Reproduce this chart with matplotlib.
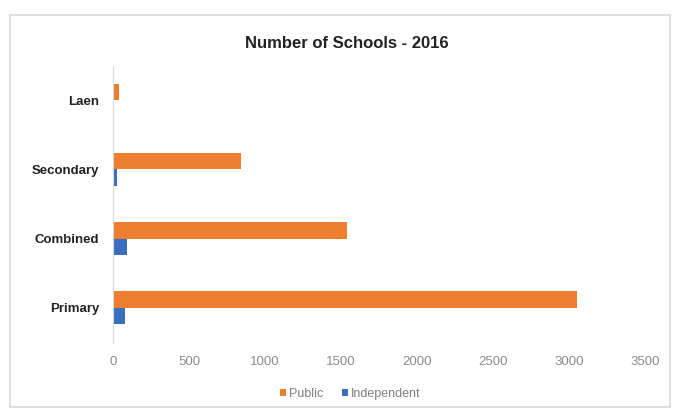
import matplotlib.pyplot as plt
from matplotlib.patches import Rectangle
import numpy as np

plt.rcParams["font.family"] = ["Liberation Sans", "DejaVu Sans"]

categories = ["Primary", "Combined", "Secondary", "Laen"]
public = [3050, 1540, 840, 40]
independent = [80, 90, 25, 0]
x_ticks = [0, 500, 1000, 1500, 2000, 2500, 3000, 3500]

ORANGE = "#ED7D31"
BLUE = "#3A6FC0"

W, H = 677, 412
fig = plt.figure(figsize=(W / 100, H / 100), dpi=100)
fig.patch.set_facecolor("white")

# chart-area frame
fig.patches.append(Rectangle((10 / W, 1 - 407 / H), 660 / W, 392 / H,
                             transform=fig.transFigure, fill=False,
                             edgecolor="#d9d9d9", linewidth=1.2))

ax = fig.add_axes([113 / W, 1 - 342.5 / H, (645 - 113) / W, 277 / H])
y = np.arange(len(categories))
h = 0.24
ax.barh(y + h / 2, public, height=h, color=ORANGE, label="Public")
ax.barh(y - h / 2, independent, height=h, color=BLUE, label="Independent")

ax.set_xlim(0, 3500)
ax.set_ylim(-0.5, 3.5)
ax.set_xticks(x_ticks)
ax.set_xticklabels([str(t) for t in x_ticks], color="#8c8c8c", fontsize=9.5)
ax.set_yticks(y)
ax.set_yticklabels(categories, fontsize=9.5, fontweight="bold", color="#222222")
ax.tick_params(axis="y", length=0, pad=10)
ax.tick_params(axis="x", length=0, pad=10)
for s in ["top", "right", "bottom"]:
    ax.spines[s].set_visible(False)
ax.spines["left"].set_color("#d9d9d9")

fig.text(347 / W, 1 - 43 / H, "Number of Schools - 2016", ha="center", va="center",
         fontsize=12, fontweight="bold", color="#222222")

leg = fig.legend(loc="center", bbox_to_anchor=(350 / W, 1 - 394 / H), ncol=2,
                 frameon=False, fontsize=9, handlelength=0.5, handleheight=0.5,
                 handletextpad=0.2, columnspacing=1.5)
for t in leg.get_texts():
    t.set_color("#7f7f7f")

fig.savefig("out.png", dpi=100)
